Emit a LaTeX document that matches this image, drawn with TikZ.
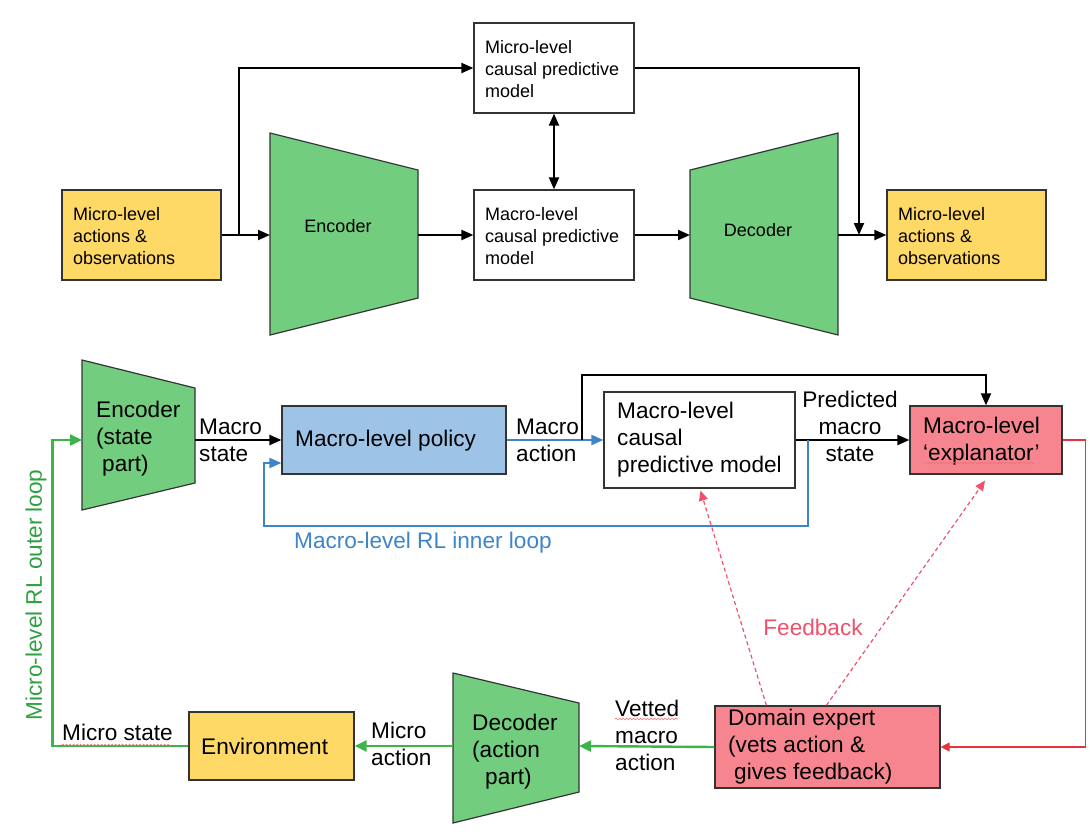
\documentclass[tikz,border=0pt]{standalone}
\usepackage{fontspec}
\setmainfont{Liberation Sans}
\usetikzlibrary{arrows.meta,calc,decorations.pathmorphing}

\definecolor{encgreen}{HTML}{72CE7E}
\definecolor{boxyellow}{HTML}{FFD966}
\definecolor{policyblue}{HTML}{9DC3E6}
\definecolor{boxpink}{HTML}{F7858F}
\definecolor{loopblue}{HTML}{3D85C6}
\definecolor{loopgreen}{HTML}{3CB44A}
\definecolor{textgreen}{HTML}{2FA042}
\definecolor{loopred}{HTML}{E8323C}
\definecolor{fbpink}{HTML}{F0506A}
\definecolor{edgegray}{HTML}{333333}

\tikzset{
  box/.style={draw=edgegray, line width=1.2pt, inner sep=0pt},
  trap/.style={draw=edgegray, line width=1.2pt, fill=encgreen},
  topfont/.style={font=\fontsize{18}{22}\selectfont},
  botfont/.style={font=\fontsize{22.6}{27}\selectfont},
  txt/.style={inner sep=0pt, align=left, anchor=west},
  blackarrow/.style={line width=2pt, -{Triangle[length=12pt,width=10pt]}},
  bluearrow/.style={line width=2pt, draw=loopblue, -{Triangle[length=12pt,width=10pt]}},
  greenarrow/.style={line width=2.4pt, draw=loopgreen, -{Triangle[length=12pt,width=11pt]}},
  redarrow/.style={line width=1.2pt, draw=loopred, -{Triangle[length=9pt,width=9pt]}},
  fbarrow/.style={line width=1.2pt, draw=fbpink, dash pattern=on 4pt off 3pt, -{Triangle[length=10pt,width=9pt]}},
  squig/.style={draw=loopred!70, line width=0.6pt, decorate, decoration={snake, amplitude=0.9pt, segment length=3.5pt}}
}

\begin{document}
\begin{tikzpicture}[x=1pt,y=-1pt]
\useasboundingbox (0,0) rectangle (1090,831);

% ---------------- upper diagram: encoder / decoder ----------------
\node[box, fill=boxyellow, minimum width=159pt, minimum height=90pt] (yl1) at (141.5,235) {};
\node[box, fill=white, minimum width=160pt, minimum height=90pt] (micro) at (554,68) {};
\node[box, fill=white, minimum width=160pt, minimum height=90pt] (macro) at (554,235) {};
\node[box, fill=boxyellow, minimum width=159pt, minimum height=90pt] (yl2) at (966.5,235) {};

\draw[trap] (270,133) -- (418,170) -- (418,298) -- (270,335) -- cycle;
\draw[trap] (690,170) -- (838,133) -- (838,335) -- (690,298) -- cycle;
\coordinate (encin) at (270,235);
\coordinate (encout) at (418,235);
\coordinate (decin) at (690,235);
\coordinate (decout) at (838,235);
\coordinate (br) at (239,235);
\coordinate (jn) at (859,235);

\node[txt, topfont] (tyl1) at (73,236) {Micro-level\\actions \&\\observations};
\node[txt, topfont] (tmicro) at (485,69) {Micro-level\\causal predictive\\model};
\node[txt, topfont] (tmacro) at (485,236) {Macro-level\\causal predictive\\model};
\node[txt, topfont] (tyl2) at (898,236) {Micro-level\\actions \&\\observations};
\node[topfont, inner sep=0pt] (tenc) at (338,226) {Encoder};
\node[topfont, inner sep=0pt] (tdec) at (758,230) {Decoder};

\draw[blackarrow] (yl1.east) -- (encin);
\draw[blackarrow] (br) |- (micro.west);
\draw[blackarrow] (encout) -- (macro.west);
\draw[line width=2pt, {Triangle[length=12pt,width=10pt]}-{Triangle[length=12pt,width=10pt]}] (macro.north) -- (micro.south);
\draw[blackarrow] (macro.east) -- (decin);
\draw[blackarrow] (decout) -- (yl2.west);
\draw[blackarrow] (micro.east) -| (jn);

% ---------------- lower diagram: RL loops ----------------
\draw[trap] (82,360) -- (195,388) -- (195,483) -- (82,510) -- cycle;
\draw[trap] (453,673) -- (579,703) -- (579,792) -- (453,823) -- cycle;
\coordinate (enc2in) at (82,440);
\coordinate (enc2out) at (195,440);
\coordinate (dec2in) at (579,746);
\coordinate (dec2out) at (453,746);

\node[box, fill=policyblue, minimum width=224pt, minimum height=68pt] (policy) at (394,440) {};
\node[box, fill=white, minimum width=191pt, minimum height=96pt] (mcm) at (699.5,440) {};
\node[box, fill=boxpink, minimum width=152pt, minimum height=68pt] (expl) at (986,440) {};
\node[box, fill=boxpink, minimum width=225pt, minimum height=82pt] (domain) at (827.5,747) {};
\node[box, fill=boxyellow, minimum width=165pt, minimum height=68pt] (env) at (271.5,746) {};

% connectors
\draw[blackarrow] (enc2out) -- (policy.west);
\draw[bluearrow] (policy.east) -- (mcm.west);
\coordinate (ab) at (582,440);
\draw[blackarrow] (ab) -- ++(0,-65) -| (expl.north);
\draw[blackarrow] (mcm.east) -- (expl.west);
\coordinate (lb) at (808,440);
\draw[bluearrow] (lb) |- (264,526) |- ($(policy.west)+(0,23)$);
\draw[redarrow] (expl.east) -- ++(23,0) |- (domain.east);
\draw[fbarrow] ($(domain.north west)+(52,0)$) -- ($(mcm.south)+(1,2)$);
\draw[fbarrow] ($(domain.north west)+(112,0)$) -- ($(expl.south)+(-1,6)$);
\draw[greenarrow] (domain.west) -- (dec2in);
\draw[greenarrow] (dec2out) -- (env.east);
\draw[greenarrow] (env.west) -- ++(-136,0) |- (enc2in);

% texts
\node[txt, botfont] (tenc2) at (96,439) {Encoder\\(state\\\hspace*{6pt}part)};
\node[txt, botfont] (tdec2) at (472,752) {Decoder\\(action\\\hspace*{13pt}part)};
\node[txt, botfont] (tpolicy) at (295,441) {Macro-level policy};
\node[txt, botfont] (tmcm) at (617,440) {Macro-level\\causal\\predictive model};
\node[txt, botfont] (texpl) at (923,441) {Macro-level\\‘explanator’};
\node[txt, botfont] (tdomain) at (728,747) {Domain expert\\(vets action \&\\\hspace*{6pt}gives feedback)};
\node[txt, botfont] (tenv) at (201,746) {Environment};

\node[txt, botfont] (lmstate) at (199,440) {Macro\\state};
\node[txt, botfont] (lmaction) at (516,440) {Macro\\action};
\node[botfont, inner sep=0pt, align=center] (lpred) at (850,426) {Predicted\\macro\\state};
\node[txt, botfont, text=loopblue] (linner) at (294,543) {Macro-level RL inner loop};
\node[txt, botfont] (lmicroact) at (371,744) {Micro\\action};
\node[txt, botfont] (lvetted) at (615,735) {Vetted\\macro\\action};
\node[txt, botfont] (lmicrostate) at (62,732) {Micro state};
\node[botfont, inner sep=0pt, text=fbpink] (lfeedback) at (813,627) {Feedback};
\node[botfont, inner sep=0pt, text=textgreen, rotate=90] (louter) at (36,595) {Micro-level RL outer loop};

% spell-check underlines
\draw[squig] (925,463) -- (1034,463);
\draw[squig] (62,745) -- (171,745);
\draw[squig] (615,719) -- (678,719);
\end{tikzpicture}
\end{document}
